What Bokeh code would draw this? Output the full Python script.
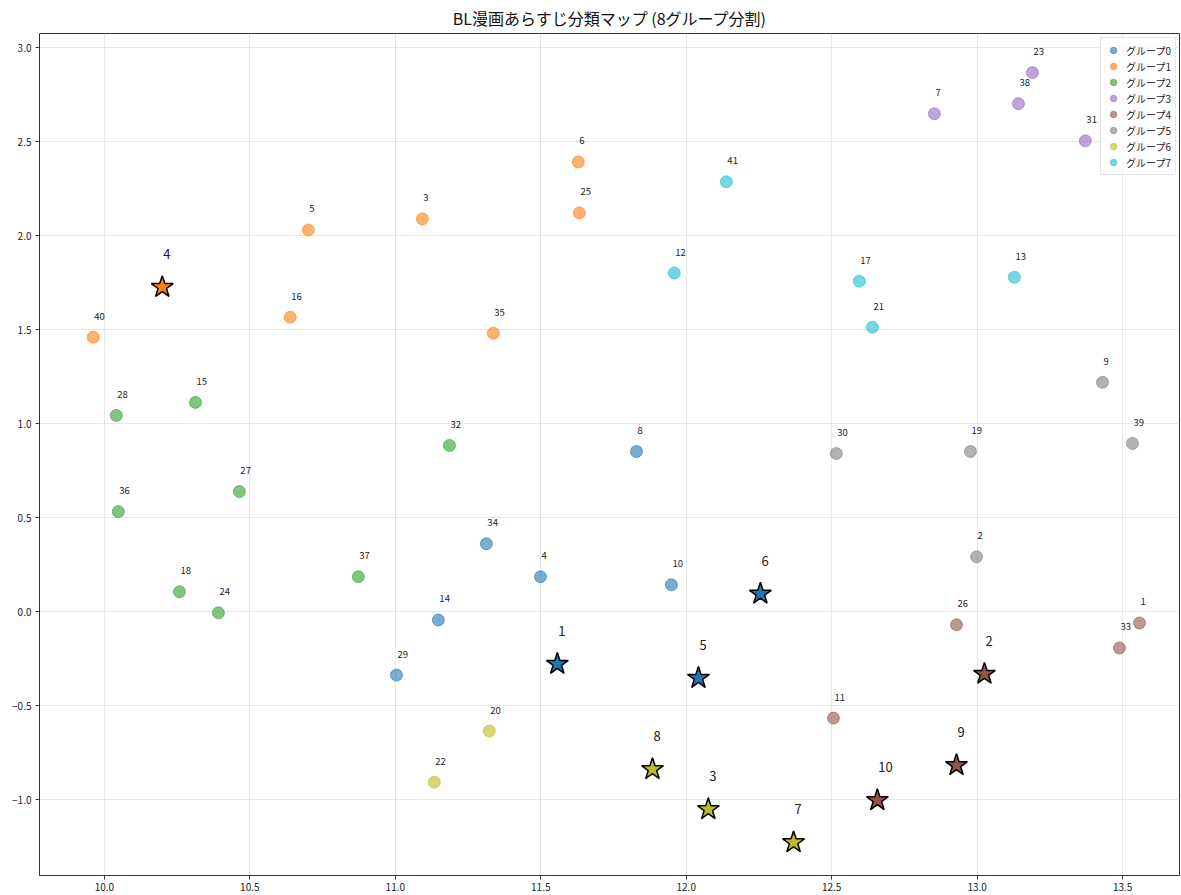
from bokeh.plotting import figure
from bokeh.models import ColumnDataSource, FixedTicker, Range1d, Legend, LegendItem
from bokeh.embed import file_html
from bokeh.resources import INLINE
from bokeh.core.properties import value

TITLE = "BL漫画あらすじ分類マップ (8グループ分割)"
group_names = ["グループ0", "グループ1", "グループ2", "グループ3",
               "グループ4", "グループ5", "グループ6", "グループ7"]
group_colors = ["#1f77b4", "#ff7f0e", "#2ca02c", "#9467bd",
                "#8c564b", "#7f7f7f", "#bcbd22", "#17becf"]

point_ids = list(range(1, 42))
point_x = [13.558, 12.998, 11.093, 11.499, 10.701, 11.629, 12.853, 11.829, 13.431, 11.949,
           12.506, 11.959, 13.128, 11.148, 10.313, 10.639, 12.595, 10.258, 12.977, 11.323,
           12.640, 11.134, 13.190, 10.392, 11.633, 12.929, 10.464, 10.041, 11.004, 12.516,
           13.372, 11.186, 13.489, 11.313, 11.337, 10.048, 10.873, 13.142, 13.534, 9.962,
           12.138]
point_y = [-0.059, 0.293, 2.090, 0.187, 2.031, 2.393, 2.649, 0.853, 1.221, 0.144,
           -0.565, 1.802, 1.780, -0.043, 1.114, 1.567, 1.759, 0.107, 0.853, -0.634,
           1.514, -0.906, 2.868, -0.005, 2.122, -0.069, 0.640, 1.045, -0.336, 0.842,
           2.505, 0.885, -0.192, 0.362, 1.482, 0.533, 0.187, 2.703, 0.896, 1.461,
           2.287]
point_group = [4, 5, 1, 0, 1, 1, 3, 0, 5, 0,
               4, 7, 7, 0, 2, 1, 7, 2, 5, 6,
               7, 6, 3, 2, 1, 4, 2, 2, 0, 5,
               3, 2, 4, 0, 1, 2, 2, 3, 5, 1,
               7]

star_ids = [1, 2, 3, 4, 5, 6, 7, 8, 9, 10]
star_x = [11.557, 13.025, 12.076, 10.199, 12.042, 12.255, 12.369, 11.884, 12.929, 12.657]
star_y = [-0.277, -0.330, -1.050, 1.727, -0.352, 0.096, -1.226, -0.837, -0.816, -1.002]
star_group = [0, 4, 6, 1, 0, 0, 6, 6, 4, 4]

x_ticks = [10.0, 10.5, 11.0, 11.5, 12.0, 12.5, 13.0, 13.5]
y_ticks = [-1.0, -0.5, 0.0, 0.5, 1.0, 1.5, 2.0, 2.5, 3.0]

FONT = "Noto Sans CJK JP"

p = figure(width=1180, height=893, output_backend="svg", toolbar_location=None,
           x_range=Range1d(9.777, 13.699), y_range=Range1d(-1.402, 3.076),
           min_border_left=39, min_border_right=0, min_border_top=0, min_border_bottom=0)

p.title.text = TITLE
p.title.align = "center"
p.title.text_font = FONT
p.title.text_font_size = "16px"
p.title.text_font_style = "normal"
p.title.text_color = "#111111"
p.title.standoff = 7

p.outline_line_color = "#333333"
p.outline_line_width = 1
p.background_fill_color = "white"
p.border_fill_color = "white"

for ax in (p.xaxis, p.yaxis):
    ax.axis_line_color = None
    ax.major_tick_line_color = "#333333"
    ax.major_tick_out = 4
    ax.major_tick_in = 0
    ax.minor_tick_line_color = None
    ax.major_label_text_font = FONT
    ax.major_label_text_font_size = "10px"
    ax.major_label_text_color = "#222222"
    ax.major_label_standoff = 3

p.yaxis.major_label_standoff = 4

p.xaxis.ticker = FixedTicker(ticks=x_ticks)
p.yaxis.ticker = FixedTicker(ticks=y_ticks)
p.xaxis.major_label_overrides = {t: f"{t:.1f}" for t in x_ticks}
p.yaxis.major_label_overrides = {t: f"{t:.1f}".replace("-", "\u2212") for t in y_ticks}

p.grid.grid_line_color = "#b0b0b0"
p.grid.grid_line_alpha = 0.3
p.grid.grid_line_width = 1

items = []
for g, name in enumerate(group_names):
    idx = [i for i, gg in enumerate(point_group) if gg == g]
    src = ColumnDataSource(dict(
        x=[point_x[i] for i in idx],
        y=[point_y[i] for i in idx],
        label=[str(point_ids[i]) for i in idx],
    ))
    r = p.scatter("x", "y", source=src, size=12, marker="circle",
                  fill_color=group_colors[g], fill_alpha=0.6,
                  line_color=group_colors[g], line_alpha=0.6, line_width=1)
    p.text("x", "y", text="label", source=src, x_offset=1, y_offset=-21,
           text_font=value(FONT), text_font_size="9.5px", text_color="#222222",
           text_align="left", text_baseline="middle")
    items.append(LegendItem(label=name, renderers=[r]))

star_src = ColumnDataSource(dict(
    x=star_x, y=star_y,
    label=[str(s) for s in star_ids],
    color=[group_colors[g] for g in star_group],
))
p.scatter("x", "y", source=star_src, marker="star", size=23,
          fill_color="color", fill_alpha=1.0, line_color="black", line_width=1.5)
p.text("x", "y", text="label", source=star_src, x_offset=1, y_offset=-33,
       text_font=value(FONT), text_font_size="13px", text_color="#222222",
       text_align="left", text_baseline="middle")

legend = Legend(items=items, location="top_right")
legend.label_text_font = FONT
legend.label_text_font_size = "10px"
legend.label_text_color = "#222222"
legend.glyph_width = 16
legend.glyph_height = 16
legend.label_height = 14
legend.label_standoff = 5
legend.spacing = 0
legend.padding = 4
legend.margin = 4
legend.border_line_color = "#cccccc"
legend.background_fill_alpha = 0.8
p.add_layout(legend)

open("out.html", "w").write(file_html(p, INLINE))
